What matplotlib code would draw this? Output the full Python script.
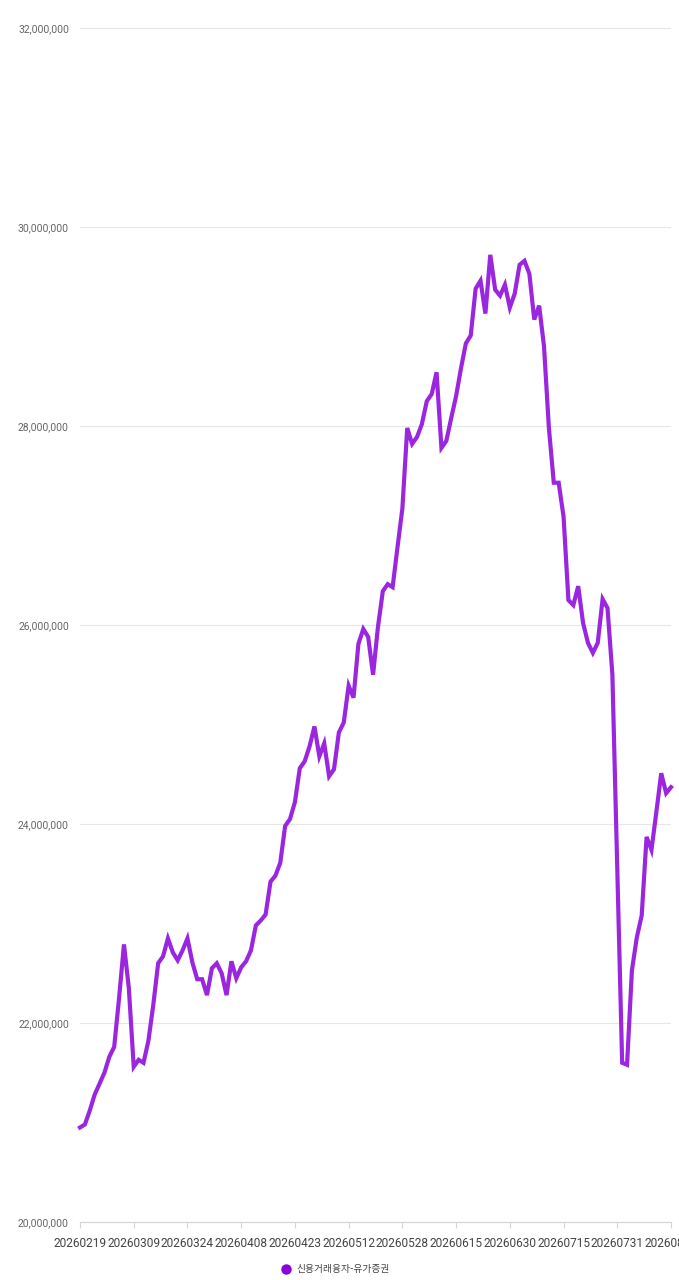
import matplotlib
matplotlib.use('Agg')
import matplotlib.pyplot as plt
from matplotlib.ticker import FuncFormatter
from matplotlib.lines import Line2D

plt.rcParams['font.family'] = ['Roboto', 'Noto Sans CJK KR', 'DejaVu Sans']

# 신용거래융자-유가증권 (millions of won), one value per trading day
values_m = [
    20.95, 20.98, 21.12, 21.28, 21.39, 21.50, 21.66, 21.76, 22.25, 22.79,
    22.35, 21.56, 21.63, 21.60, 21.82, 22.18, 22.60, 22.67, 22.85, 22.71,
    22.63, 22.73, 22.85, 22.61, 22.44, 22.44, 22.28, 22.55, 22.60, 22.50,
    22.28, 22.62, 22.45, 22.56, 22.62, 22.73, 22.98, 23.03, 23.09, 23.42,
    23.48, 23.61, 23.98, 24.05, 24.22, 24.56, 24.63, 24.78, 24.98, 24.68,
    24.81, 24.48, 24.55, 24.92, 25.02, 25.39, 25.27, 25.81, 25.96, 25.88,
    25.50, 25.98, 26.34, 26.41, 26.38, 26.78, 27.17, 27.98, 27.82, 27.89,
    28.02, 28.25, 28.32, 28.54, 27.78, 27.85, 28.08, 28.30, 28.58, 28.83,
    28.91, 29.38, 29.46, 29.13, 29.72, 29.37, 29.31, 29.42, 29.19, 29.33,
    29.62, 29.66, 29.53, 29.07, 29.21, 28.80, 27.98, 27.43, 27.43, 27.09,
    26.25, 26.20, 26.39, 26.02, 25.82, 25.72, 25.82, 26.26, 26.17, 25.50,
    23.55, 21.60, 21.58, 22.53, 22.86, 23.08, 23.87, 23.74, 24.12, 24.51,
    24.31, 24.37,
]
values = [v * 1_000_000 for v in values_m]

tick_labels = ['20260219', '20260309', '20260324', '20260408', '20260423',
               '20260512', '20260528', '20260615', '20260630', '20260715',
               '20260731', '20260818']
label_step = 11
series_name = '신용거래융자-유가증권'

line_color = '#9b26df'

fig = plt.figure(figsize=(6.79, 12.8), dpi=100)
ax = fig.add_axes([80 / 679, 1 - 1222 / 1280, 591 / 679, (1222 - 28) / 1280])

x = list(range(len(values)))
ax.plot(x, values, color=line_color, lw=3.0, solid_joinstyle='miter',
        clip_on=False, zorder=3)

ax.set_xlim(0, len(values) - 1)
ax.set_ylim(20_000_000, 32_000_000)
ax.set_yticks(range(20_000_000, 32_000_001, 2_000_000))
ax.yaxis.set_major_formatter(FuncFormatter(lambda v, p: f'{int(v):,}'))
ax.set_xticks([i * label_step for i in range(len(tick_labels))])
ax.set_xticklabels(tick_labels)

ax.grid(axis='y', color='#e6e6e6', lw=0.8)
ax.set_axisbelow(True)
for s in ['top', 'right', 'left']:
    ax.spines[s].set_visible(False)
ax.spines['bottom'].set_color('#d6d6d6')
ax.spines['bottom'].set_linewidth(0.9)

ax.tick_params(axis='y', length=0, pad=8, labelsize=7.5, labelcolor='#666666')
ax.tick_params(axis='x', length=4, width=0.8, color='#d6d6d6', pad=7,
               labelsize=8.6, labelcolor='#444444')

handle = Line2D([], [], color='#8a00d8', marker='o', linestyle='none',
                markersize=6.5)
fig.legend([handle], [series_name], loc='center',
           bbox_to_anchor=(333 / 679, 1 - 1269 / 1280), frameon=False,
           fontsize=7, handletextpad=0.1, labelcolor='#444444',
           prop={'family': ['Noto Sans CJK KR', 'DejaVu Sans'], 'size': 7})

fig.savefig('out.png', dpi=100, facecolor='white')
